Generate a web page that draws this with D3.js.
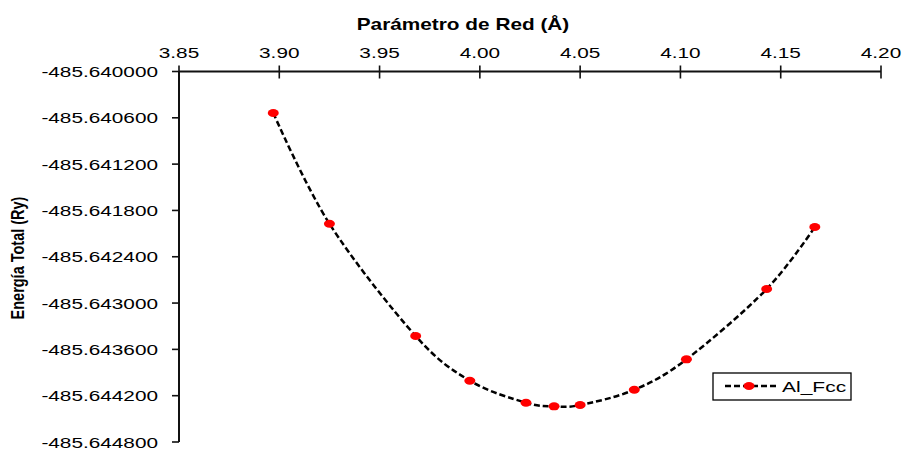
<!DOCTYPE html>
<html>
<head>
<meta charset="utf-8">
<script src="https://cdn.jsdelivr.net/npm/d3@7"></script>
<style>
  html, body { margin: 0; padding: 0; background: #ffffff; }
  svg { display: block; }
  text { font-family: "Liberation Sans", Arial, sans-serif; fill: #000; }
</style>
</head>
<body>
<svg id="chart" width="905" height="450"></svg>
<script>
// Lattice parameter (Å) and total energy (Ry) for fcc aluminium
const latticeA = [3.897, 3.925, 3.968, 3.995, 4.023, 4.037, 4.050, 4.077, 4.103, 4.143, 4.167];
const energyRy = [-485.640538, -485.641972, -485.643427, -485.644006, -485.644291, -485.644338,
                  -485.644321, -485.644123, -485.643729, -485.642818, -485.642015];
const seriesName = "Al_Fcc";

const xTicks = [3.85, 3.90, 3.95, 4.00, 4.05, 4.10, 4.15, 4.20];
const yTicks = [-485.640000, -485.640600, -485.641200, -485.641800, -485.642400,
                -485.643000, -485.643600, -485.644200, -485.644800];

const xTitle = "Parámetro de Red (Å)";
const yTitle = "Energía Total (Ry)";

// Labels are drawn horizontally widened
const SX = 1.34;

const svg = d3.select("#chart");
const plot = { left: 179, right: 881, top: 71.5, bottom: 442 };

const x = d3.scaleLinear().domain([3.85, 4.20]).range([plot.left, plot.right]);
const y = d3.scaleLinear().domain([-485.640000, -485.644800]).range([plot.top, plot.bottom]);

// Hyphen-minus, fixed decimals
const fmtX = d => d.toFixed(2);
const fmtY = d => d.toFixed(6);

// Top x axis: ticks crossing the axis line
const xAxis = svg.append("g").attr("transform", `translate(0,${plot.top})`);
xAxis.append("line")
  .attr("x1", plot.left).attr("x2", plot.right)
  .attr("stroke", "#111").attr("stroke-width", 2);
const xt = xAxis.selectAll("g.tick").data(xTicks).join("g")
  .attr("class", "tick")
  .attr("transform", d => `translate(${x(d)},0)`);
xt.append("line").attr("y1", -6).attr("y2", 7).attr("stroke", "#111").attr("stroke-width", 1.6);
xt.append("text")
  .attr("transform", `translate(0,-14) scale(${SX},1)`)
  .attr("text-anchor", "middle")
  .attr("font-size", 15.5)
  .text(fmtX);

// Left y axis
const yAxis = svg.append("g").attr("transform", `translate(${plot.left},0)`);
yAxis.append("line")
  .attr("y1", plot.top).attr("y2", plot.bottom)
  .attr("stroke", "#111").attr("stroke-width", 2);
const yt = yAxis.selectAll("g.tick").data(yTicks).join("g")
  .attr("class", "tick")
  .attr("transform", d => `translate(0,${y(d)})`);
yt.append("line").attr("x1", -7).attr("x2", 0).attr("stroke", "#111").attr("stroke-width", 1.6);
yt.append("text")
  .attr("transform", `translate(-21,0) scale(${SX},1)`)
  .attr("text-anchor", "end")
  .attr("dy", "0.36em")
  .attr("font-size", 15.5)
  .text(fmtY);

// Axis titles
svg.append("text")
  .attr("transform", `translate(463,30) scale(1.3,1)`)
  .attr("text-anchor", "middle")
  .attr("font-size", 16)
  .attr("font-weight", "bold")
  .text(xTitle);

svg.append("text")
  .attr("transform", `translate(23.5,258) rotate(-90) scale(1,1.3)`)
  .attr("text-anchor", "middle")
  .attr("font-size", 14.5)
  .attr("font-weight", "bold")
  .text(yTitle);

// Smoothed dashed curve through the points
const pts = latticeA.map((a, i) => [a, energyRy[i]]);
const line = d3.line()
  .x(d => x(d[0]))
  .y(d => y(d[1]))
  .curve(d3.curveCardinal.tension(0));

svg.append("path")
  .datum(pts)
  .attr("d", line)
  .attr("fill", "none")
  .attr("stroke", "#000")
  .attr("stroke-width", 2.5)
  .attr("stroke-dasharray", "6,3");

svg.append("g").selectAll("ellipse").data(pts).join("ellipse")
  .attr("cx", d => x(d[0]))
  .attr("cy", d => y(d[1]))
  .attr("rx", 5.5).attr("ry", 4)
  .attr("fill", "#ff0000");

// Legend
const lg = svg.append("g").attr("transform", "translate(713,373)");
lg.append("rect")
  .attr("width", 138).attr("height", 27)
  .attr("fill", "#fff").attr("stroke", "#000").attr("stroke-width", 1.3);
lg.append("line")
  .attr("x1", 12).attr("x2", 64).attr("y1", 13).attr("y2", 13)
  .attr("stroke", "#000").attr("stroke-width", 2.5).attr("stroke-dasharray", "6,3");
lg.append("ellipse")
  .attr("cx", 36).attr("cy", 13).attr("rx", 5.5).attr("ry", 4)
  .attr("fill", "#ff0000");
lg.append("text")
  .attr("transform", `translate(69,18.5) scale(${SX + 0.06},1)`)
  .attr("font-size", 15)
  .text(seriesName);
</script>
</body>
</html>
